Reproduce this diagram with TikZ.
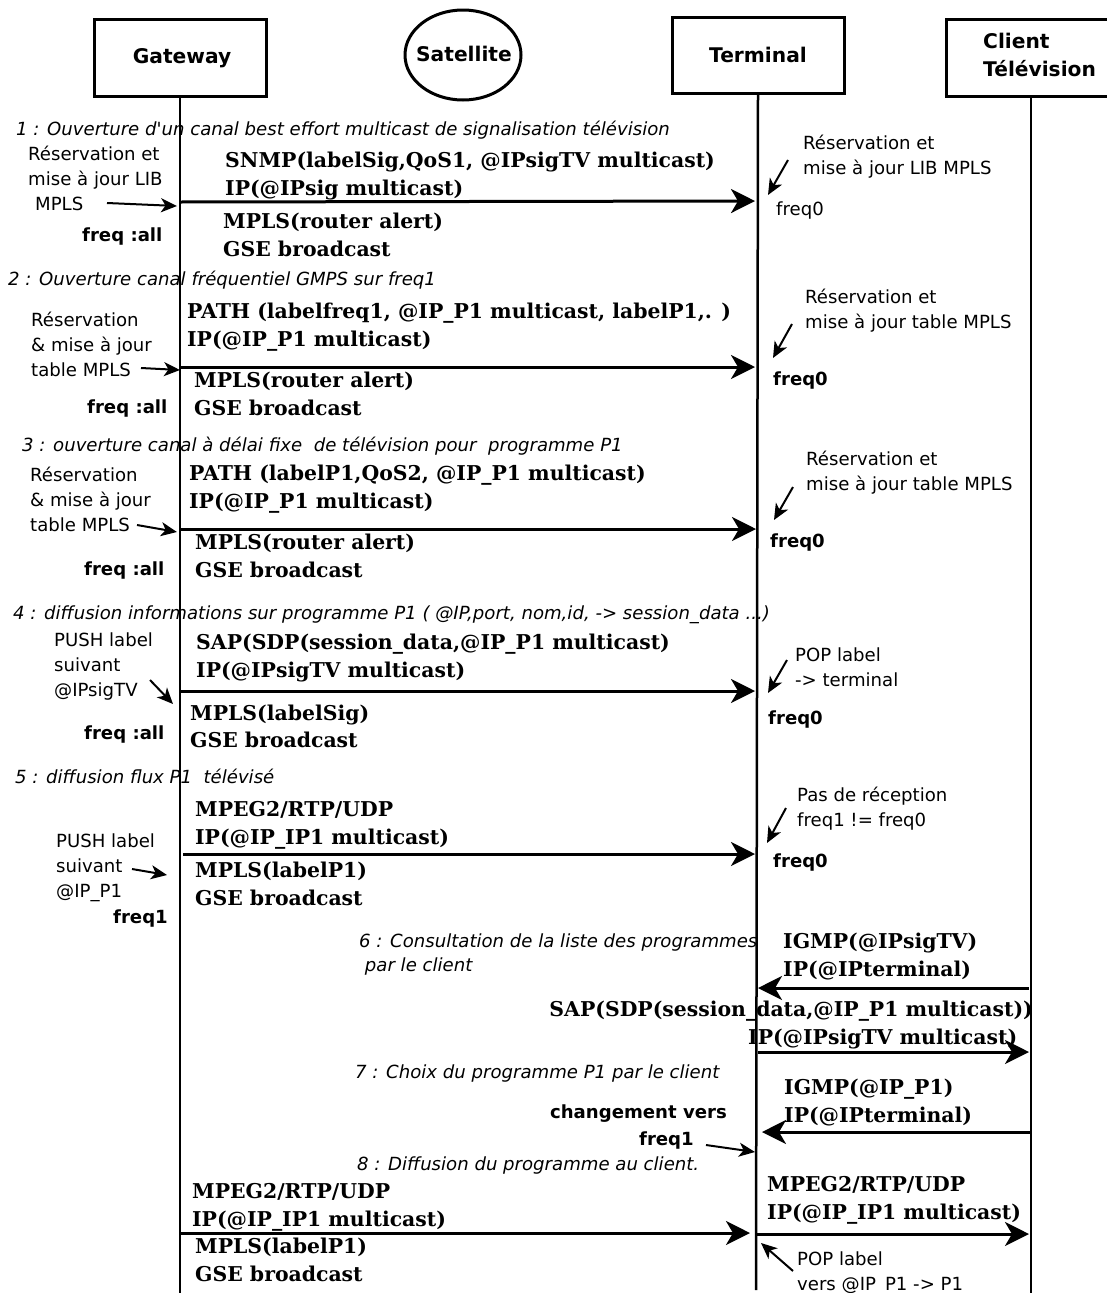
\documentclass[tikz,border=0pt]{standalone}
\usepackage{fontspec}
\setmainfont{DejaVu Sans}
\newfontfamily\msgfont{DejaVu Serif}
\usetikzlibrary{arrows.meta,shapes.geometric}
\tikzset{
  x=1pt,y=-1pt,
  box/.style={draw,line width=3pt,inner sep=0pt,font=\bfseries\fontsize{20.2}{28}\selectfont},
  life/.style={line width=2.5pt},
  msg/.style={anchor=mid west,inner sep=0pt,yshift=-4.5pt,font=\msgfont\bfseries\fontsize{20.4}{28}\selectfont},
  steptitle/.style={anchor=mid west,inner sep=0pt,yshift=-4pt,font=\itshape\fontsize{18.1}{24}\selectfont},
  note/.style={anchor=north west,inner sep=0pt,yshift=-2pt,align=left,font=\fontsize{18.1}{25}\selectfont},
  freqb/.style={anchor=mid west,inner sep=0pt,yshift=-4pt,font=\bfseries\fontsize{18.1}{25}\selectfont},
  freqr/.style={anchor=mid west,inner sep=0pt,yshift=-4pt,font=\fontsize{18.1}{25}\selectfont},
  bigarrow/.style={line width=3pt,-{Stealth[length=24pt,width=24pt,inset=7pt]}},
  smallarrow/.style={line width=2pt,-{Stealth[length=16pt,width=14pt,inset=4.5pt]}}
}
\begin{document}
\begin{tikzpicture}
\useasboundingbox (0,0) rectangle (1107,1293);
\clip (0,0) rectangle (1107,1293);
% participants
\node[box,minimum width=172pt,minimum height=77pt] (gw) at (180,57.5) {};
\node[font=\bfseries\fontsize{20.2}{28}\selectfont,inner sep=0pt] (gwt) at (182,58) {Gateway};
\node[box,ellipse,minimum width=116pt,minimum height=90pt] (sat) at (463,55) {};
\node[font=\bfseries\fontsize{20.2}{28}\selectfont,inner sep=0pt] (satt) at (464,54) {Satellite};
\node[box,minimum width=172pt,minimum height=76pt] (term) at (758,55) {Terminal};
\node[box,anchor=west,minimum width=175pt,minimum height=77pt] (cl) at (945,57.5) {};
\node[anchor=west,align=left,inner sep=0pt,font=\bfseries\fontsize{20.2}{28}\selectfont] (clt) at (983,55) {Client\\Télévision};
% lifelines
\coordinate (gwEnd) at (180,1293);
\coordinate (termEnd) at (756,1290);
\coordinate (clTop) at (1031,96);
\coordinate (clEnd) at (1031,1293);
\draw[life] (gw.south) -- (gwEnd);
\draw[life] (term.south) -- (termEnd);
\draw[life] (clTop) -- (clEnd);

% ---------- step 1
\node[steptitle] (s1) at (16,129) {1 : Ouverture d\textquotesingle un canal best effort multicast de signalisation télévision};
\node[msg] (m1a) at (225,160) {SNMP(labelSig,QoS1, @IPsigTV multicast)};
\node[msg] (m1b) at (225,188) {IP(@IPsig multicast)};
\node[msg] (m1c) at (223,221) {MPLS(router alert)};
\node[msg] (m1d) at (223,249) {GSE broadcast};
\coordinate (g1) at (180,202); \coordinate (t1) at (755,201);
\draw[bigarrow] (g1) -- (t1);
\node[note] (nL1) at (28,144) {Réservation et\\mise à jour LIB\\\hspace*{7pt}MPLS};
\coordinate (aL1s) at (107,203); \coordinate (aL1e) at (177,206);
\draw[smallarrow] (aL1s) -- (aL1e);
\node[freqb] (fL1) at (82,235) {freq :all};
\node[note] (nR1) at (803,133) {Réservation et\\mise à jour LIB MPLS};
\coordinate (aR1s) at (788,160); \coordinate (aR1e) at (768,195);
\draw[smallarrow] (aR1s) -- (aR1e);
\node[freqr] (fR1) at (776,209) {freq0};

% ---------- step 2
\node[steptitle] (s2) at (8,279) {2 : Ouverture canal fréquentiel GMPS sur freq1};
\node[msg] (m2a) at (187,311) {PATH (labelfreq1, @IP\_P1 multicast, labelP1,. )};
\node[msg] (m2b) at (187,339) {IP(@IP\_P1 multicast)};
\node[msg] (m2c) at (194,380) {MPLS(router alert)};
\node[msg] (m2d) at (194,408) {GSE broadcast};
\coordinate (g2) at (180,367); \coordinate (t2) at (755,367);
\draw[bigarrow] (g2) -- (t2);
\node[note] (nL2) at (31,310) {Réservation\\\& mise à jour\\table MPLS};
\coordinate (aL2s) at (141,368); \coordinate (aL2e) at (180,370);
\draw[smallarrow] (aL2s) -- (aL2e);
\node[freqb] (fL2) at (87,407) {freq :all};
\node[note] (nR2) at (805,287) {Réservation et\\mise à jour table MPLS};
\coordinate (aR2s) at (792,324); \coordinate (aR2e) at (773,358);
\draw[smallarrow] (aR2s) -- (aR2e);
\node[freqb] (fR2) at (773,379) {freq0};

% ---------- step 3
\node[steptitle] (s3) at (22,445) {3 : ouverture canal à délai fixe\ \ de télévision pour\ \ programme P1};
\node[msg] (m3a) at (189,473) {PATH (labelP1,QoS2, @IP\_P1 multicast)};
\node[msg] (m3b) at (189,501) {IP(@IP\_P1 multicast)};
\node[msg] (m3c) at (195,542) {MPLS(router alert)};
\node[msg] (m3d) at (195,570) {GSE broadcast};
\coordinate (g3) at (180,529); \coordinate (t3) at (756,529);
\draw[bigarrow] (g3) -- (t3);
\node[note] (nL3) at (30,465) {Réservation\\\& mise à jour\\table MPLS};
\coordinate (aL3s) at (137,525); \coordinate (aL3e) at (177,532);
\draw[smallarrow] (aL3s) -- (aL3e);
\node[freqb] (fL3) at (84,569) {freq :all};
\node[note] (nR3) at (806,449) {Réservation et\\mise à jour table MPLS};
\coordinate (aR3s) at (793,487); \coordinate (aR3e) at (774,520);
\draw[smallarrow] (aR3s) -- (aR3e);
\node[freqb] (fR3) at (770,541) {freq0};

% ---------- step 4
\node[steptitle] (s4) at (13,613) {4 : diffusion informations sur programme P1 ( @IP,port, nom,id, -> session\_data ...)};
\node[msg] (m4a) at (196,642) {SAP(SDP(session\_data,@IP\_P1 multicast)};
\node[msg] (m4b) at (196,670) {IP(@IPsigTV multicast)};
\node[msg] (m4c) at (190,713) {MPLS(labelSig)};
\node[msg] (m4d) at (190,740) {GSE broadcast};
\coordinate (g4) at (180,691); \coordinate (t4) at (755,691);
\draw[bigarrow] (g4) -- (t4);
\node[note] (nL4) at (54,631) {PUSH label\\suivant\\@IPsigTV};
\coordinate (aL4s) at (150,680); \coordinate (aL4e) at (173,704);
\draw[smallarrow] (aL4s) -- (aL4e);
\node[freqb] (fL4) at (84,733) {freq :all};
\node[note] (nR4) at (795,646) {POP label\\-> terminal};
\coordinate (aR4s) at (787,660); \coordinate (aR4e) at (768,693);
\draw[smallarrow] (aR4s) -- (aR4e);
\node[freqb] (fR4) at (768,718) {freq0};

% ---------- step 5
\node[steptitle] (s5) at (15,777) {5 : diffusion flux P1\ \ télévisé};
\node[msg] (m5a) at (195,809) {MPEG2/RTP/UDP};
\node[msg] (m5b) at (195,837) {IP(@IP\_IP1 multicast)};
\node[msg] (m5c) at (195,870) {MPLS(labelP1)};
\node[msg] (m5d) at (195,898) {GSE broadcast};
\coordinate (g5) at (183,854); \coordinate (t5) at (755,854);
\draw[bigarrow] (g5) -- (t5);
\node[note] (nL5) at (56,832) {PUSH label\\suivant\\@IP\_P1};
\coordinate (aL5s) at (132,869); \coordinate (aL5e) at (167,875);
\draw[smallarrow] (aL5s) -- (aL5e);
\node[freqb] (fL5) at (113,917) {freq1};
\node[note] (nR5) at (797,785) {Pas de réception\\freq1 != freq0};
\coordinate (aR5s) at (786,808); \coordinate (aR5e) at (767,843);
\draw[smallarrow] (aR5s) -- (aR5e);
\node[freqb] (fR5) at (773,861) {freq0};

% ---------- step 6
\node[note,font=\itshape\fontsize{18.1}{24}\selectfont] (s6) at (359,932) {6 : Consultation de la liste des programmes\\\ par le client};
\node[msg] (m6a) at (783,941) {IGMP(@IPsigTV)};
\node[msg] (m6b) at (783,969) {IP(@IPterminal)};
\coordinate (c6) at (1029,988); \coordinate (t6) at (758,988);
\draw[bigarrow] (c6) -- (t6);
\node[msg,anchor=mid east] (m6c) at (1033,1009) {SAP(SDP(session\_data,@IP\_P1 multicast))};
\node[msg] (m6d) at (748,1037) {IP(@IPsigTV multicast)};
\coordinate (t6b) at (758,1052); \coordinate (c6b) at (1029,1052);
\draw[bigarrow] (t6b) -- (c6b);

% ---------- step 7
\node[steptitle] (s7) at (355,1072) {7 : Choix du programme P1 par le client};
\node[msg] (m7a) at (784,1087) {IGMP(@IP\_P1)};
\node[msg] (m7b) at (784,1115) {IP(@IPterminal)};
\coordinate (c7) at (1031,1132); \coordinate (t7) at (762,1132);
\draw[bigarrow] (c7) -- (t7);
\node[freqb,anchor=mid east] (chg) at (727,1112) {changement vers};
\node[freqb,anchor=mid east] (chf) at (694,1139) {freq1};
\coordinate (a7s) at (706,1145); \coordinate (a7e) at (755,1152);
\draw[smallarrow] (a7s) -- (a7e);

% ---------- step 8
\node[steptitle] (s8) at (357,1164) {8 : Diffusion du programme au client.};
\node[msg] (m8a) at (192,1191) {MPEG2/RTP/UDP};
\node[msg] (m8b) at (192,1219) {IP(@IP\_IP1 multicast)};
\node[msg] (m8c) at (195,1246) {MPLS(labelP1)};
\node[msg] (m8d) at (195,1274) {GSE broadcast};
\coordinate (g8) at (180,1233); \coordinate (t8) at (750,1233);
\draw[bigarrow] (g8) -- (t8);
\node[msg] (m8e) at (767,1184) {MPEG2/RTP/UDP};
\node[msg] (m8f) at (767,1212) {IP(@IP\_IP1 multicast)};
\coordinate (t8b) at (756,1234); \coordinate (c8b) at (1029,1234);
\draw[bigarrow] (t8b) -- (c8b);
\node[note] (n8) at (797,1250) {POP label\\vers @IP\_P1 -> P1};
\coordinate (a8s) at (793,1271); \coordinate (a8e) at (761,1243);
\draw[smallarrow] (a8s) -- (a8e);
\end{tikzpicture}
\end{document}
